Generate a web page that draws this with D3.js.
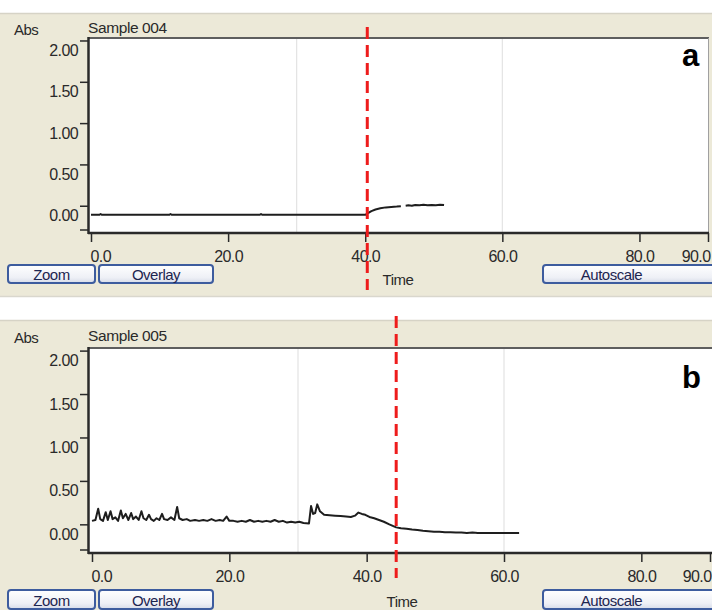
<!DOCTYPE html>
<html>
<head>
<meta charset="utf-8">
<script src="https://cdn.jsdelivr.net/npm/d3@7"></script>
<style>
  html, body { margin: 0; padding: 0; background: #ffffff; }
  svg { display: block; }
  text { font-family: "Liberation Sans", Arial, sans-serif; }
</style>
</head>
<body>
<svg id="chart" width="712" height="610"></svg>
<script>
// ---- data ----
const sampleNames = ["Sample 004", "Sample 005"];
const panelLetters = ["a", "b"];
const yTickValues = [0, 0.5, 1, 1.5, 2];
const xTickValues = [0, 20, 40, 60, 80, 90];
const gridTimes = [30, 60];
const markerTimes = [40.3, 44.3];
const buttonLabels = ["Zoom", "Overlay", "Autoscale"];

// Sample 004: [time, absorbance]; null marks a break in the trace
const sample004 = [
  [0, -0.11], [1.2, -0.11], [1.4, -0.10], [1.6, -0.11], [11.4, -0.11], [11.6, -0.10],
  [11.8, -0.11], [24.6, -0.11], [24.8, -0.10], [25.0, -0.11], [40.0, -0.11],
  [40.4, -0.09], [40.9, -0.065], [41.5, -0.045], [42.2, -0.03], [43.0, -0.02],
  [43.8, -0.015], [44.6, -0.01], [45.2, -0.005], [45.5, null], [45.9, 0.0],
  [46.3, 0.005], [46.8, 0.0], [47.3, 0.01], [47.9, 0.005], [48.5, 0.012],
  [49.1, 0.005], [49.7, 0.01], [50.3, 0.006], [50.9, 0.012], [51.5, 0.008]
];

// Sample 005: [time, absorbance]
const sample005 = [
  [0.0, 0.04], [0.5, 0.05], [0.9, 0.18], [1.2, 0.06], [1.6, 0.04], [2.0, 0.14],
  [2.3, 0.05], [2.7, 0.15], [3.0, 0.06], [3.4, 0.08], [3.8, 0.04], [4.2, 0.16],
  [4.5, 0.07], [4.9, 0.12], [5.3, 0.05], [5.7, 0.13], [6.0, 0.06], [6.4, 0.09],
  [6.8, 0.05], [7.2, 0.15], [7.5, 0.07], [7.9, 0.05], [8.3, 0.11], [8.6, 0.06],
  [9.0, 0.04], [9.4, 0.07], [9.8, 0.05], [10.2, 0.12], [10.5, 0.06], [11.0, 0.05],
  [11.5, 0.08], [12.0, 0.05], [12.4, 0.20], [12.7, 0.07], [13.2, 0.05], [13.8, 0.06],
  [14.3, 0.04], [15.0, 0.05], [15.6, 0.04], [16.2, 0.05], [16.8, 0.04], [17.4, 0.06],
  [18.0, 0.04], [18.6, 0.05], [19.1, 0.04], [19.6, 0.09], [20.0, 0.04], [20.6, 0.04],
  [21.2, 0.03], [21.8, 0.04], [22.4, 0.03], [23.0, 0.05], [23.6, 0.03], [24.2, 0.04],
  [24.8, 0.03], [25.4, 0.04], [26.0, 0.03], [26.6, 0.05], [27.2, 0.03], [27.8, 0.04],
  [28.4, 0.02], [29.0, 0.03], [29.6, 0.02], [30.2, 0.03], [30.8, 0.015], [31.6, 0.01],
  [31.9, 0.21], [32.2, 0.12], [32.5, 0.13], [32.8, 0.23], [33.2, 0.15], [33.8, 0.11],
  [34.6, 0.105], [35.4, 0.10], [36.2, 0.095], [37.0, 0.09], [37.7, 0.085], [38.3, 0.10],
  [38.8, 0.135], [39.3, 0.12], [39.8, 0.11], [40.4, 0.085], [41.1, 0.07], [41.8, 0.05],
  [42.5, 0.03], [43.3, 0.0], [44.3, -0.035], [45.0, -0.045], [45.8, -0.05], [46.6, -0.06],
  [47.4, -0.065], [48.2, -0.075], [49.0, -0.08], [49.8, -0.085], [50.6, -0.085],
  [51.4, -0.09], [52.2, -0.09], [53.0, -0.095], [53.8, -0.095], [54.6, -0.10],
  [55.4, -0.095], [56.2, -0.10], [57.0, -0.10], [57.8, -0.10], [58.6, -0.10],
  [59.4, -0.10], [60.2, -0.10], [61.0, -0.10], [61.8, -0.10], [62.2, -0.10]
];

const traces = [sample004, sample005];

// ---- layout of the two instrument panels ----
const layouts = [
  { top: 14, bottom: 296, plotL: 88, plotR: 709, plotT: 38, plotB: 233, x0: 91, x90: 708,
    titleY: 33, absY: 35, tickLabelY: 262, timeX: 398, timeY: 285, btnY: 265, btnH: 18,
    markY0: 27, markY1: 290, letterY: 66 },
  { top: 321, bottom: 612, plotL: 88, plotR: 713, plotT: 348, plotB: 553, x0: 92, x90: 710,
    titleY: 341, absY: 343, tickLabelY: 582, timeX: 402, timeY: 607, btnY: 590, btnH: 19,
    markY0: 316, markY1: 578, letterY: 388 }
];
const buttonBoxes = [[8, 95], [99, 213], [543, 726]];

const svg = d3.select("#chart");
const defs = svg.append("defs");
const grad = defs.append("linearGradient").attr("id", "btnFill")
  .attr("x1", 0).attr("y1", 0).attr("x2", 0).attr("y2", 1);
grad.append("stop").attr("offset", "0%").attr("stop-color", "#ffffff");
grad.append("stop").attr("offset", "70%").attr("stop-color", "#eef0f6");
grad.append("stop").attr("offset", "100%").attr("stop-color", "#d6dbe8");

const beige = "#ece9d8";
const ink = "#2a2a2a";

layouts.forEach((L, i) => {
  const g = svg.append("g");

  // window background
  g.append("rect").attr("x", 0).attr("y", L.top).attr("width", 712)
    .attr("height", L.bottom - L.top).attr("fill", beige);
  g.append("line").attr("x1", 0).attr("x2", 712).attr("y1", L.top - 0.5).attr("y2", L.top - 0.5)
    .attr("stroke", "#d6d3c6").attr("stroke-width", 1.5);
  if (i === 0) {
    g.append("line").attr("x1", 0).attr("x2", 712).attr("y1", L.bottom + 0.5).attr("y2", L.bottom + 0.5)
      .attr("stroke", "#d9d7cd").attr("stroke-width", 1.5);
  }

  const x = d3.scaleLinear().domain([0, 90]).range([L.x0, L.x90]);
  const y = d3.scaleLinear().domain([-0.33, 2.03]).range([L.plotB, L.plotT]);

  // plot area
  g.append("rect").attr("x", L.plotL).attr("y", L.plotT)
    .attr("width", L.plotR - L.plotL).attr("height", L.plotB - L.plotT).attr("fill", "#ffffff");

  // vertical grid lines
  g.selectAll(".grid").data(gridTimes).enter().append("line")
    .attr("x1", d => x(d)).attr("x2", d => x(d))
    .attr("y1", L.plotT).attr("y2", L.plotB)
    .attr("stroke", "#e3e3e3").attr("stroke-width", 1.2);

  // plot frame (top and right)
  g.append("line").attr("x1", L.plotL).attr("x2", L.plotR).attr("y1", L.plotT).attr("y2", L.plotT)
    .attr("stroke", "#5e5e5e").attr("stroke-width", 2);
  g.append("line").attr("x1", L.plotR - 0.5).attr("x2", L.plotR - 0.5).attr("y1", L.plotT).attr("y2", L.plotB)
    .attr("stroke", "#a0a0a0").attr("stroke-width", 1);

  // trace
  const line = d3.line()
    .defined(d => d[1] !== null)
    .x(d => x(d[0])).y(d => y(d[1]));
  g.append("path").datum(traces[i]).attr("d", line)
    .attr("fill", "none").attr("stroke", "#1e1e1e").attr("stroke-width", 2)
    .attr("stroke-linejoin", "round");

  // y axis
  const yAxis = d3.axisLeft(y).tickValues(yTickValues).tickFormat(d3.format(".2f"))
    .tickSize(8).tickSizeOuter(0);
  const ya = g.append("g").attr("transform", `translate(${L.plotL},0)`).call(yAxis);
  ya.select(".domain").remove();
  ya.selectAll(".tick line").attr("stroke", ink).attr("stroke-width", 1.5);
  ya.selectAll(".tick text").attr("x", -10).attr("dy", 15)
    .attr("fill", ink).attr("font-size", 16).attr("letter-spacing", -0.6)
    .attr("font-family", "'Liberation Sans', Arial, sans-serif");
  g.append("line").attr("x1", L.plotL).attr("x2", L.plotL - 8)
    .attr("y1", L.plotB - 3).attr("y2", L.plotB - 3).attr("stroke", ink).attr("stroke-width", 1.5);
  g.append("line").attr("x1", L.plotL + 0.5).attr("x2", L.plotL + 0.5)
    .attr("y1", L.plotT - 1).attr("y2", L.plotB + 1).attr("stroke", ink).attr("stroke-width", 2.5);

  // x axis
  const xAxis = d3.axisBottom(x).tickValues(xTickValues).tickFormat(d3.format(".1f"))
    .tickSize(9).tickSizeOuter(0);
  const xa = g.append("g").attr("transform", `translate(0,${L.plotB})`).call(xAxis);
  xa.select(".domain").remove();
  xa.selectAll(".tick line").attr("stroke", ink).attr("stroke-width", 1.5);
  xa.selectAll(".tick text")
    .attr("y", L.tickLabelY - L.plotB).attr("dy", 0)
    .attr("fill", ink).attr("font-size", 16).attr("letter-spacing", -0.6)
    .attr("font-family", "'Liberation Sans', Arial, sans-serif")
    .attr("text-anchor", d => d === 0 ? "start" : (d === 90 ? "end" : "middle"))
    .attr("dx", d => d === 0 ? -1 : (d === 90 ? Math.min(2, 711 - x(90)) : 0));
  g.append("line").attr("x1", L.plotL).attr("x2", L.plotR)
    .attr("y1", L.plotB).attr("y2", L.plotB).attr("stroke", ink).attr("stroke-width", 2.5);

  // header texts
  g.append("text").attr("x", 14).attr("y", L.absY).text("Abs")
    .attr("fill", ink).attr("font-size", 15).attr("letter-spacing", -0.5);
  g.append("text").attr("x", 88).attr("y", L.titleY).text(sampleNames[i])
    .attr("fill", ink).attr("font-size", 15.5).attr("letter-spacing", -0.4);
  g.append("text").attr("x", L.timeX).attr("y", L.timeY).attr("text-anchor", "middle")
    .text("Time").attr("fill", ink).attr("font-size", 15).attr("letter-spacing", -0.5);

  // buttons
  buttonBoxes.forEach((b, k) => {
    g.append("rect").attr("x", b[0]).attr("y", L.btnY).attr("width", b[1] - b[0])
      .attr("height", L.btnH).attr("rx", 3).attr("fill", "url(#btnFill)")
      .attr("stroke", "#3d5c9e").attr("stroke-width", 2);
    g.append("text").attr("x", (b[0] + Math.min(b[1], 712)) / 2 + (k === 2 ? -16 : 0))
      .attr("y", L.btnY + L.btnH - 3).attr("text-anchor", "middle")
      .text(buttonLabels[k]).attr("fill", "#1d2550").attr("font-size", 15).attr("letter-spacing", -0.5);
  });

  // panel letter
  g.append("text").attr("x", 682).attr("y", L.letterY).text(panelLetters[i])
    .attr("fill", "#000").attr("font-size", 31).attr("font-weight", "bold");

  // red dashed time marker
  g.append("line").attr("x1", x(markerTimes[i])).attr("x2", x(markerTimes[i]))
    .attr("y1", L.markY0).attr("y2", L.markY1)
    .attr("stroke", "#ee1c1c").attr("stroke-width", 3).attr("stroke-dasharray", "12,6");
});
</script>
</body>
</html>
